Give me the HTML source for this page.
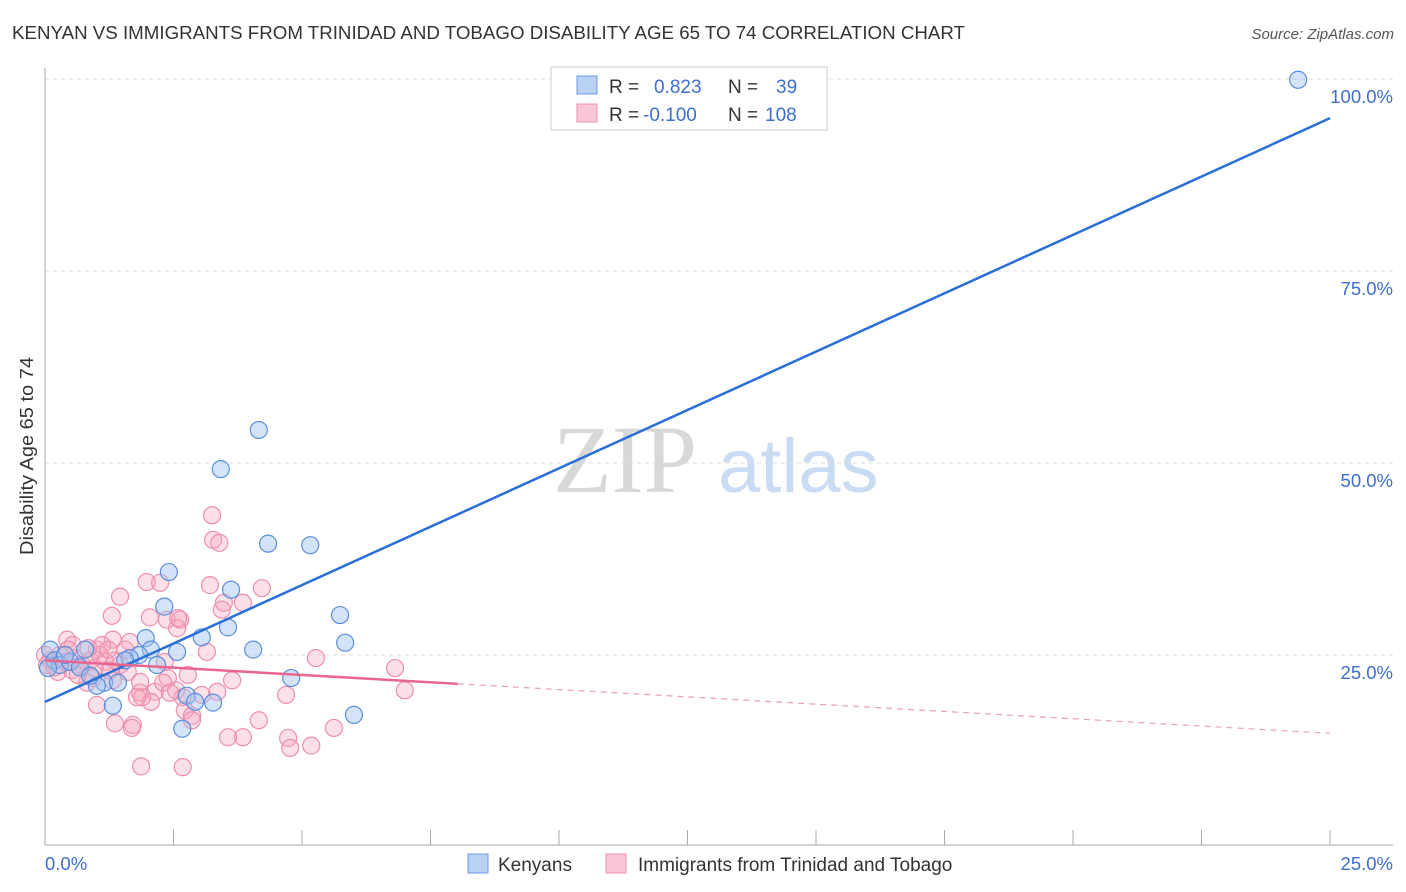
<!DOCTYPE html>
<html><head><meta charset="utf-8"><style>
body{margin:0;background:#fff;font-family:"Liberation Sans",sans-serif}
svg{display:block}
</style></head><body>
<svg id="c" width="1406" height="892">
<text x="12" y="39" font-size="18" fill="#333" textLength="953" lengthAdjust="spacingAndGlyphs">KENYAN VS IMMIGRANTS FROM TRINIDAD AND TOBAGO DISABILITY AGE 65 TO 74 CORRELATION CHART</text>
<text x="1394" y="39" font-size="15" fill="#555" font-style="italic" text-anchor="end">Source: ZipAtlas.com</text>
<text transform="translate(33,456) rotate(-90)" font-size="18" fill="#333" text-anchor="middle" textLength="198" lengthAdjust="spacingAndGlyphs">Disability Age 65 to 74</text>
<g><text x="553" y="492" font-family="Liberation Serif,serif" font-size="96" fill="#d8d8d8">ZIP</text><text x="718" y="492" font-size="76" fill="#c9dcf3">atlas</text></g>
<g id="grid"></g><g id="axes"></g><g id="pts"></g><g id="lines"></g>
<g>
<rect x="551" y="67" width="276" height="63" fill="#fff" stroke="#ccc"/>
<rect x="577" y="76" width="20" height="18" fill="#b9d2f4" stroke="#6a9be0"/>
<rect x="577" y="104" width="20" height="18" fill="#f9c7d5" stroke="#ec8fae"/>
<text x="609" y="93" font-size="19" fill="#333">R = <tspan fill="#3d6fcf" x="654">0.823</tspan><tspan x="728" fill="#333">N =</tspan><tspan x="776" fill="#3d6fcf">39</tspan></text>
<text x="609" y="121" font-size="19" fill="#333">R = <tspan fill="#3d6fcf" x="643">-0.100</tspan><tspan x="728" fill="#333">N =</tspan><tspan x="765" fill="#3d6fcf">108</tspan></text>
</g>
<g>
<rect x="468" y="854" width="20" height="19" fill="#b9d2f4" stroke="#6a9be0"/>
<text x="498" y="871" font-size="19" fill="#333">Kenyans</text>
<rect x="606" y="854" width="20" height="19" fill="#f9c7d5" stroke="#ec8fae"/>
<text x="638" y="871" font-size="19" fill="#333">Immigrants from Trinidad and Tobago</text>
</g>
</svg>
<script>
const yTicks=[25,50,75,100];
const xTickLabels=["0.0%","25.0%"];
const blueX=[24.38,4.16,3.42,4.34,5.16,2.41,3.62,2.32,3.56,5.74,3.05,1.96,5.84,2.57,2.06,4.05,1.83,2.18,4.79,1.15,1.42,1.01,2.76,3.27,1.32,2.67,6.01,0.10,0.19,0.29,0.49,0.68,0.88,1.65,1.56,0.06,0.39,2.92,0.78];
const blueY=[99.9,54.3,49.2,39.5,39.3,35.8,33.5,31.3,28.6,30.2,27.3,27.2,26.6,25.4,25.7,25.7,25.0,23.7,22.0,21.4,21.4,21.0,19.7,18.8,18.4,15.4,17.2,25.7,24.3,23.7,24.1,23.4,22.3,24.6,24.3,23.3,25.0,18.9,25.7];
const pinkX=[3.25,3.27,3.39,3.21,3.48,3.44,3.85,4.22,3.15,3.64,4.69,4.16,3.85,3.56,4.73,4.77,5.18,5.62,5.27,6.81,7.00,2.68,2.72,2.86,2.86,2.68,2.37,2.63,2.57,2.24,1.98,2.39,2.55,3.05,2.14,1.85,1.87,1.71,1.69,2.06,1.89,2.33,2.78,1.46,1.30,2.04,2.59,0.43,1.32,1.65,1.01,0.54,0.82,1.85,2.30,1.32,1.79,2.43,3.35,1.01,1.36,0.10,0.19,0.29,0.45,0.58,0.72,0.88,0.97,1.07,1.17,1.26,1.46,1.56,0.25,0.53,0.84,0.64,1.11,1.36,0.00,0.04,0.41,0.93,1.23,1.61];
const pinkY=[43.2,40.0,39.6,34.1,31.8,30.9,31.8,33.7,25.4,21.7,19.8,16.5,14.3,14.3,14.2,12.9,13.2,15.5,24.6,23.3,20.4,19.5,17.8,17.1,16.5,10.4,29.6,29.6,28.5,34.4,34.5,22.0,20.4,19.8,20.2,20.1,10.5,15.9,15.5,18.9,19.5,24.1,22.4,32.6,30.1,29.9,29.8,27.0,27.0,26.7,25.7,26.3,21.4,21.5,21.4,21.7,19.5,20.1,20.2,18.5,16.1,24.3,23.4,25.0,25.7,24.6,23.7,24.3,23.3,25.0,24.1,23.0,23.7,25.7,22.8,23.0,25.9,22.4,26.3,24.3,25.0,23.7,24.1,22.0,25.7,22.8];
const blueLine=[18.9,94.9];
const pinkLine=[24.3,14.8];
const pinkSolidEnd=8.03;
const NS="http://www.w3.org/2000/svg";
const X=v=>45+v*51.4, Y=v=>847-v*7.68;
function mk(t,a,p){const e=document.createElementNS(NS,t);for(const k in a)e.setAttribute(k,a[k]);document.getElementById(p).appendChild(e);return e;}
yTicks.forEach(t=>{
 const g=mk('line',{x1:45,x2:1393,y1:Y(t),y2:Y(t),stroke:'#ddd','stroke-dasharray':'4,4'},'grid');
 
 
 const l=mk('text',{x:1393,y:Y(t)+24,'font-size':18.5,fill:'#3d6fcf','text-anchor':'end'},'grid');
 l.textContent=t.toFixed(1)+'%';
 
 
});
let a=mk('line',{x1:45,x2:45,y1:68,y2:845,stroke:'#aaa'},'axes');


a=mk('line',{x1:45,x2:1393,y1:845,y2:845,stroke:'#aaa'},'axes');


for(let i=0;i<=10;i++){const t=mk('line',{x1:X(i*2.5),x2:X(i*2.5),y1:830,y2:845,stroke:'#aaa'},'axes');
 
 }
let tl=mk('text',{x:45,y:870,'font-size':18.5,fill:'#3d6fcf'},'axes');tl.textContent=xTickLabels[0];


tl=mk('text',{x:1393,y:870,'font-size':18.5,fill:'#3d6fcf','text-anchor':'end'},'axes');tl.textContent=xTickLabels[1];


pinkX.forEach((x,i)=>{const c=mk('circle',{cx:X(x),cy:Y(pinkY[i]),r:8.5,fill:'rgba(245,165,188,0.35)',stroke:'#ec8fae','stroke-width':1.2},'pts');
 
 });
blueX.forEach((x,i)=>{const c=mk('circle',{cx:X(x),cy:Y(blueY[i]),r:8.5,fill:'rgba(160,195,240,0.45)',stroke:'#5b8fdc','stroke-width':1.2},'pts');
 
 });
let l=mk('line',{x1:X(0),y1:Y(blueLine[0]),x2:X(25),y2:Y(blueLine[1]),stroke:'#2a6fd6','stroke-width':2.5},'lines');


const pe=pinkLine[0]+(pinkLine[1]-pinkLine[0])*pinkSolidEnd/25;
l=mk('line',{x1:X(0),y1:Y(pinkLine[0]),x2:X(pinkSolidEnd),y2:Y(pe),stroke:'#e8658f','stroke-width':2.5},'lines');


l=mk('line',{x1:X(pinkSolidEnd),y1:Y(pe),x2:X(25),y2:Y(pinkLine[1]),stroke:'#e8a0b8','stroke-width':1.2,'stroke-dasharray':'6,5'},'lines');


</script>
</body></html>
